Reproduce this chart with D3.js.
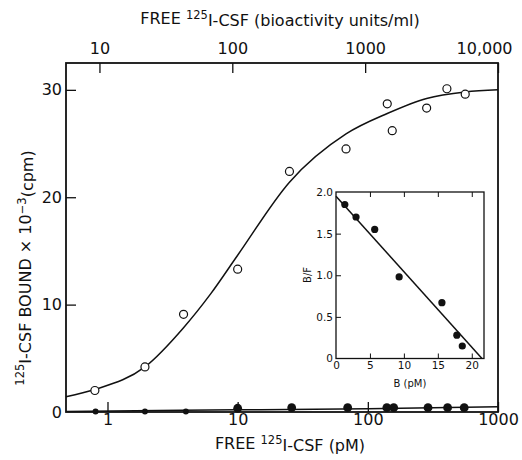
<!DOCTYPE html>
<html>
<head>
<meta charset="utf-8">
<script src="https://cdn.jsdelivr.net/npm/d3@7"></script>
<style>
  body { margin: 0; background: #fff; }
  text { font-family: "DejaVu Sans", sans-serif; fill: #111; }
</style>
</head>
<body>
<div id="chart"></div>
<script>
// open circles: total binding (free pM, bound x10^-3 cpm)
const freeConc = [0.8, 1.94, 3.84, 10, 25, 68, 141, 154, 283, 405, 560];
const totalBound = [2.0, 4.2, 9.1, 13.3, 22.4, 24.5, 28.7, 26.2, 28.3, 30.1, 29.6];
// filled dots: nonspecific binding
const nsConc = [0.81, 1.94, 4.0, 10, 26, 70, 140, 158, 290, 410, 550];
const nsBound = [0.05, 0.05, 0.05, 0.35, 0.4, 0.4, 0.4, 0.4, 0.4, 0.4, 0.4];
// fitted curves
const fitConc = [0.48, 0.8, 1.94, 3.84, 6.2, 10, 25, 68, 141, 283, 560, 1000];
const fitBound = [1.43, 2.1, 4.2, 7.85, 11.0, 14.6, 21.4, 25.9, 27.8, 29.2, 29.8, 30.0];
const nsFitConc = [0.48, 10, 100, 1000];
const nsFitBound = [0.05, 0.2, 0.3, 0.5];
// Scatchard inset
const scatB = [1.3, 2.95, 5.7, 9.3, 15.6, 17.8, 18.6];
const scatBF = [1.85, 1.70, 1.55, 0.98, 0.67, 0.28, 0.15];
const scatFitB = [0, 21.5];
const scatFitBF = [1.95, 0];

// tick labels
const bottomTicks = [1, 10, 100, 1000];
const topTicks = [10, 100, 1000, 10000];
const topTickLabels = ["10", "100", "1000", "10,000"];
const yTicks = [0, 10, 20, 30];
const insetXTicks = [0, 5, 10, 15, 20];
const insetYTicks = [0, 0.5, 1.0, 1.5, 2.0];
const insetYTickLabels = ["0", "0.5", "1.0", "1.5", "2.0"];

const margin = { top: 63, right: 24, bottom: 48, left: 66 },
      width = 522 - margin.left - margin.right,
      height = 460 - margin.top - margin.bottom;

const svg = d3.select("#chart")
    .append("svg")
    .attr("width", 522)
    .attr("height", 460);

const g = svg.append("g")
    .attr("transform", `translate(${margin.left},${margin.top})`);

// scales
const x = d3.scaleLog().domain([0.48, 1000]).range([0, width]);
const xTop = d3.scaleLog().domain([5.6, 10000]).range([0, width]);
const y = d3.scaleLinear().domain([0, 32.5]).range([height, 0]);

// helper: text with superscripts, parts = [[text, isSup], ...]
function richText(sel, parts) {
    let up = false;
    parts.forEach(([t, sup]) => {
        const ts = sel.append("tspan").text(t);
        if (sup && !up) { ts.attr("dy", "-0.45em").style("font-size", "0.72em"); up = true; }
        else if (sup) { ts.style("font-size", "0.72em"); }
        else if (up) { ts.attr("dy", "0.45em"); up = false; }
    });
}

// axes
const bottomAxis = g.append("g")
    .attr("transform", `translate(0,${height})`)
    .call(d3.axisBottom(x).tickValues(bottomTicks).tickSize(-10).tickPadding(2)
        .tickFormat(d3.format("d")));

const topAxis = g.append("g")
    .call(d3.axisTop(xTop).tickValues(topTicks).tickSize(-10).tickPadding(9)
        .tickFormat((d, i) => topTickLabels[i]));
topAxis.selectAll(".tick text").filter(d => d === 10000).attr("dx", -14);

const leftAxis = g.append("g")
    .call(d3.axisLeft(y).tickValues(yTicks).tickSize(-10).tickPadding(4)
        .tickFormat(d3.format("d")));
leftAxis.selectAll(".tick").filter(d => d === 0).select("line").remove();

[bottomAxis, topAxis, leftAxis].forEach(a => {
    a.select(".domain").remove();
    a.selectAll(".tick line").attr("stroke", "#111").attr("stroke-width", 1.3);
    a.selectAll(".tick text").style("font-size", "16px").attr("fill", "#111");
});

// frame
g.append("rect")
    .attr("width", width)
    .attr("height", height)
    .attr("fill", "none")
    .attr("stroke", "#111")
    .attr("stroke-width", 1.8);

// fitted lines
const line = d3.line()
    .x(d => x(d[0]))
    .y(d => y(d[1]))
    .curve(d3.curveMonotoneX);

g.append("path")
    .datum(fitConc.map((c, i) => [c, fitBound[i]]))
    .attr("d", line)
    .attr("fill", "none")
    .attr("stroke", "#111")
    .attr("stroke-width", 1.5);

g.append("path")
    .datum(nsFitConc.map((c, i) => [c, nsFitBound[i]]))
    .attr("d", line)
    .attr("fill", "none")
    .attr("stroke", "#111")
    .attr("stroke-width", 1.5);

// points
g.selectAll(".open")
    .data(freeConc.map((c, i) => [c, totalBound[i]]))
    .enter().append("circle")
    .attr("class", "open")
    .attr("cx", d => x(d[0]))
    .attr("cy", d => y(d[1]))
    .attr("r", 4)
    .attr("fill", "#fff")
    .attr("stroke", "#111")
    .attr("stroke-width", 1.2);

g.selectAll(".filled")
    .data(nsConc.map((c, i) => [c, nsBound[i]]))
    .enter().append("circle")
    .attr("class", "filled")
    .attr("cx", d => x(d[0]))
    .attr("cy", d => y(d[1]))
    .attr("r", d => d[1] < 0.2 ? 3 : 4.4)
    .attr("fill", "#111");

// axis titles
richText(svg.append("text")
    .attr("x", 280).attr("y", 24)
    .attr("text-anchor", "middle")
    .style("font-size", "16px"),
    [["FREE ", false], ["125", true], ["I-CSF (bioactivity units/ml)", false]]);

richText(svg.append("text")
    .attr("x", 290).attr("y", 449)
    .attr("text-anchor", "middle")
    .style("font-size", "16px"),
    [["FREE ", false], ["125", true], ["I-CSF (pM)", false]]);

richText(svg.append("text")
    .attr("transform", "translate(29,268) rotate(-90)")
    .attr("text-anchor", "middle")
    .style("font-size", "16px"),
    [["125", true], ["I-CSF BOUND \u00d7 10", false], ["\u22123", true], ["(cpm)", false]]);

// Scatchard inset
const inset = { left: 336, top: 192, width: 148, height: 166.5 };
const ig = svg.append("g")
    .attr("transform", `translate(${inset.left},${inset.top})`);

const ix = d3.scaleLinear().domain([0, 21.8]).range([0, inset.width]);
const iy = d3.scaleLinear().domain([0, 2.0]).range([inset.height, 0]);

ig.append("rect")
    .attr("width", inset.width)
    .attr("height", inset.height)
    .attr("fill", "#fff");

const iBottom = ig.append("g")
    .attr("transform", `translate(0,${inset.height})`)
    .call(d3.axisBottom(ix).tickValues(insetXTicks).tickSize(-5).tickPadding(3));
const iTop = ig.append("g")
    .call(d3.axisTop(ix).tickValues(insetXTicks.slice(1)).tickSize(-5).tickFormat(""));
const iLeft = ig.append("g")
    .call(d3.axisLeft(iy).tickValues(insetYTicks).tickSize(-5).tickPadding(3)
        .tickFormat((d, i) => insetYTickLabels[i]));

[iBottom, iTop, iLeft].forEach(a => {
    a.select(".domain").remove();
    a.selectAll(".tick line").attr("stroke", "#111");
    a.selectAll(".tick text").style("font-size", "10.5px").attr("fill", "#222");
});
iBottom.selectAll(".tick").filter(d => d === 0).select("line").remove();
iLeft.selectAll(".tick").filter(d => d === 0 || d === 2).select("line").remove();

ig.append("rect")
    .attr("width", inset.width)
    .attr("height", inset.height)
    .attr("fill", "none")
    .attr("stroke", "#111")
    .attr("stroke-width", 1.3);

ig.append("line")
    .attr("x1", ix(scatFitB[0])).attr("y1", iy(scatFitBF[0]))
    .attr("x2", ix(scatFitB[1])).attr("y2", iy(scatFitBF[1]))
    .attr("stroke", "#111")
    .attr("stroke-width", 1.5);

ig.selectAll(".sc")
    .data(scatB.map((b, i) => [b, scatBF[i]]))
    .enter().append("circle")
    .attr("class", "sc")
    .attr("cx", d => ix(d[0]))
    .attr("cy", d => iy(d[1]))
    .attr("r", 3.6)
    .attr("fill", "#111");

svg.append("text")
    .attr("transform", "translate(311,275) rotate(-90)")
    .attr("text-anchor", "middle")
    .style("font-size", "10px")
    .text("B/F");

svg.append("text")
    .attr("x", 410).attr("y", 387)
    .attr("text-anchor", "middle")
    .style("font-size", "10px")
    .text("B (pM)");
</script>
</body>
</html>
